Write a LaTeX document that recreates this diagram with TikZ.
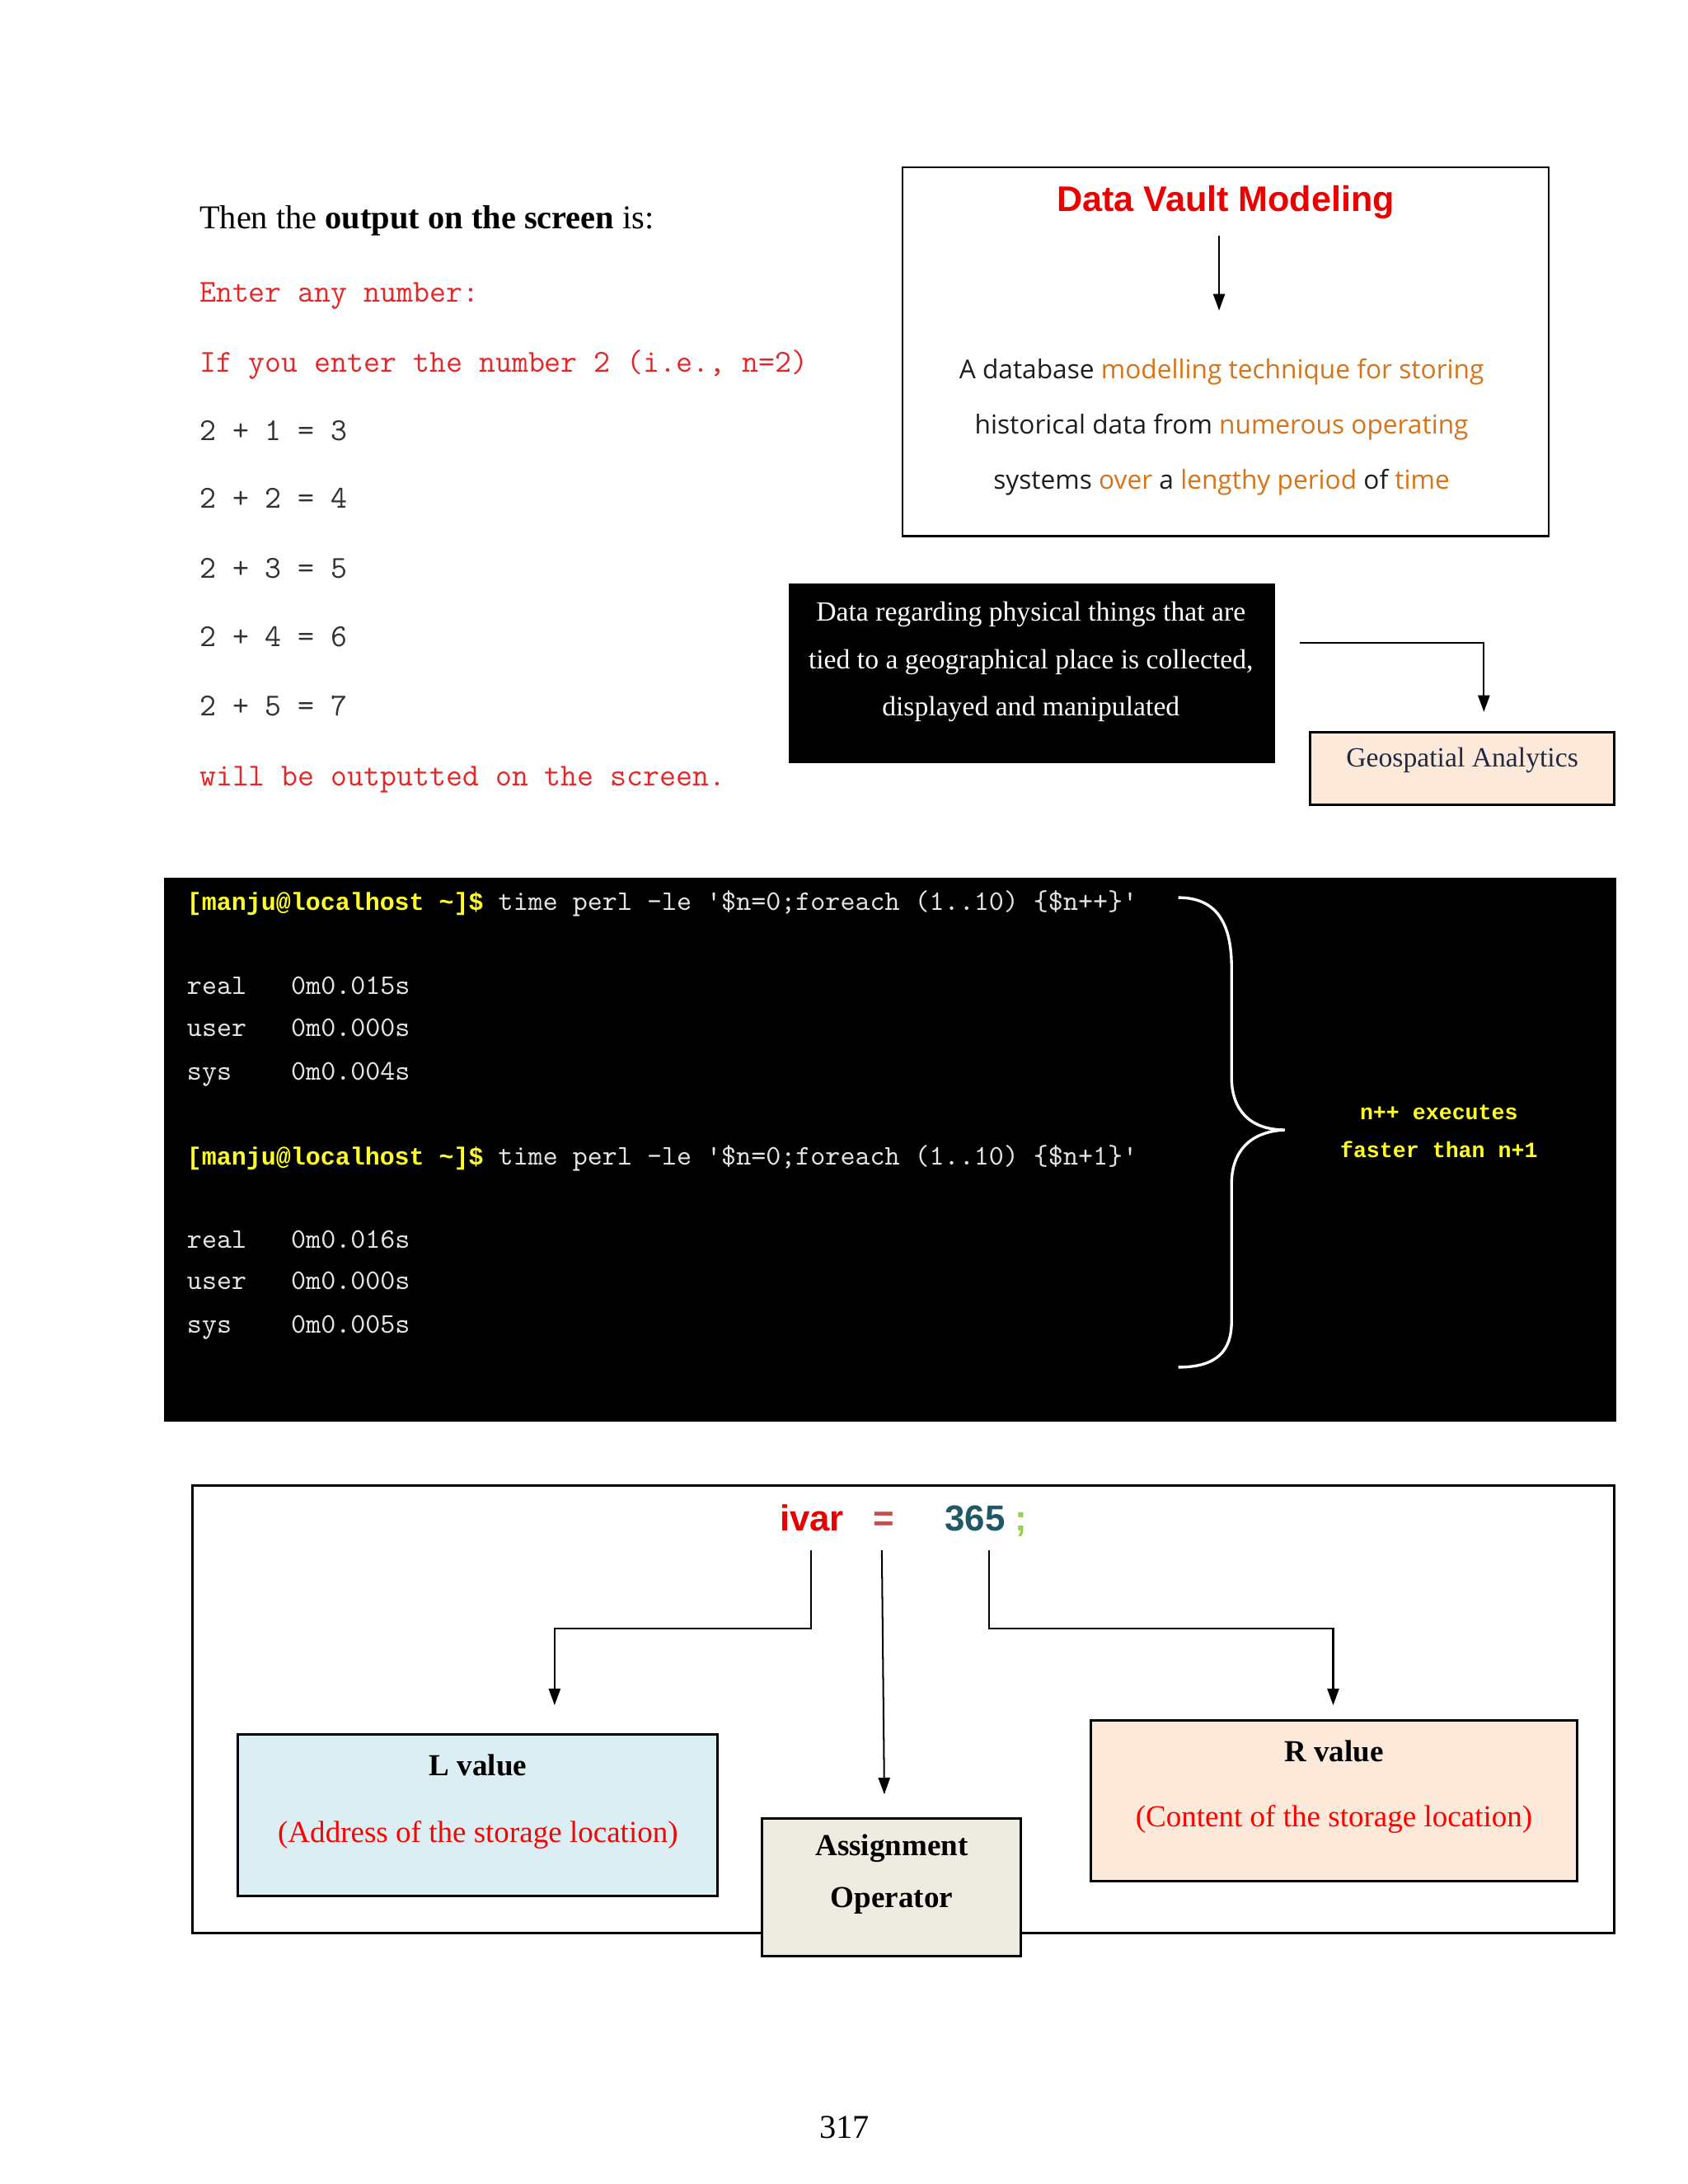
\documentclass[tikz,border=0pt]{standalone}
\usepackage{fontspec}
\setmainfont{Liberation Serif}
\setsansfont{Liberation Sans}
\newfontfamily\segoe{Open Sans}
\newfontfamily\monob{Liberation Mono}
\usetikzlibrary{arrows.meta,fit}
\definecolor{codered}{RGB}{228,38,38}
\definecolor{codegray}{RGB}{50,50,50}
\definecolor{dvred}{RGB}{235,0,0}
\definecolor{orng}{RGB}{215,115,25}
\definecolor{desc}{RGB}{30,30,30}
\definecolor{peach}{RGB}{252,233,217}
\definecolor{navy}{RGB}{31,42,68}
\definecolor{termyel}{RGB}{255,255,40}
\definecolor{termwhite}{RGB}{228,228,228}
\definecolor{ivred}{RGB}{230,0,0}
\definecolor{eqred}{RGB}{192,80,77}
\definecolor{teal}{RGB}{33,88,104}
\definecolor{semigreen}{RGB}{146,208,80}
\definecolor{lblue}{RGB}{219,238,243}
\definecolor{agray}{RGB}{238,236,225}
\newcommand\prompt{\textcolor{termyel}{\monob\bfseries\fontsize{8.9}{12}\selectfont [manju@localhost \textasciitilde]\$}}
\begin{document}
\begin{tikzpicture}[x=0.3pt,y=-0.3pt,
  arr/.style={-{Triangle[length=6pt,width=4.2pt]}, line width=0.6pt},
  codeline/.style={anchor=mid west, inner sep=0pt, font=\ttfamily\fontsize{11.5}{13}\selectfont},
  tline/.style={anchor=mid west, inner sep=0pt, text=termwhite, font=\ttfamily\fontsize{10.2}{12}\selectfont},
  frame/.style={inner sep=0pt, draw, line width=0.9pt},
  ivtext/.style={anchor=base, inner sep=0pt, font=\sffamily\bfseries\fontsize{13}{15}\selectfont}]
\useasboundingbox[fill=white] (0,-2) rectangle (2027,2621);

% left text
\node[anchor=mid west, inner sep=0pt, font=\fontsize{12}{14}\selectfont] (intro) at (239,265) {Then the \textbf{output on the screen} is:};
\node[codeline, text=codered] (l1) at (239,353) {Enter any number:};
\node[codeline, text=codered] (l2) at (239,437) {If you enter the number 2 (i.e., n=2)};
\node[codeline, text=codegray] (l3) at (239,519) {2 + 1 = 3};
\node[codeline, text=codegray] (l4) at (239,601) {2 + 2 = 4};
\node[codeline, text=codegray] (l5) at (239,685) {2 + 3 = 5};
\node[codeline, text=codegray] (l6) at (239,767) {2 + 4 = 6};
\node[codeline, text=codegray] (l7) at (239,850) {2 + 5 = 7};
\node[codeline, text=codered] (l8) at (239,934) {will be outputted on the screen.};

% data vault box
\node[fit={(1084,199) (1860,642)}, inner sep=0pt, draw, line width=0.7pt] (dv) {};
\node[font=\sffamily\bfseries\fontsize{12.8}{15}\selectfont, text=dvred] (dvt) at (1472,241) {Data Vault Modeling};
\coordinate (dva) at (1464,281);
\coordinate (dvb) at (1464,371);
\draw[arr] (dva) -- (dvb);
\node[font=\segoe\fontsize{9.4}{19.8}\selectfont, align=center, text=desc] (dvd) at (1467,511)
  {A database \textcolor{orng}{modelling technique for storing}\\
   historical data from \textcolor{orng}{numerous operating}\\
   systems \textcolor{orng}{over} a \textcolor{orng}{lengthy period} of \textcolor{orng}{time}};

% geospatial
\node[fit={(947,699) (1531,915)}, inner sep=0pt, fill=black] (geodata) {};
\node[text=white, font=\fontsize{10}{17.1}\selectfont, align=center] (geotext) at (1238,793)
  {Data regarding physical things that are\\ tied to a geographical place is collected,\\ displayed and manipulated};
\node[frame, fit={(1573,877) (1939,965)}, fill=peach] (geo) {};
\node[text=navy, font=\fontsize{10}{12}\selectfont] (geol) at (1756,911) {Geospatial Analytics};
\coordinate (ga) at (1561,770);
\coordinate (gb) at (1782,853);
\draw[arr] (ga) -| (gb);

% terminal
\node[fit={(197,1052) (1941,1705)}, inner sep=0pt, fill=black] (term) {};
\node[tline] (c1) at (224,1084) {\prompt{} time perl -le '\$n=0;foreach (1..10) \{\$n++\}'};
\node[tline] (r1) at (224,1185) {real\ \ \ 0m0.015s};
\node[tline] (u1) at (224,1235) {user\ \ \ 0m0.000s};
\node[tline] (s1) at (224,1287) {sys\ \ \ \ 0m0.004s};
\node[tline] (c2) at (224,1389) {\prompt{} time perl -le '\$n=0;foreach (1..10) \{\$n+1\}'};
\node[tline] (r2) at (224,1489) {real\ \ \ 0m0.016s};
\node[tline] (u2) at (224,1539) {user\ \ \ 0m0.000s};
\node[tline] (s2) at (224,1591) {sys\ \ \ \ 0m0.005s};
\draw[white, line width=1pt]
  (1415,1076) .. controls (1462,1076) and (1479,1108) .. (1479,1160)
  -- (1479,1292) .. controls (1479,1330) and (1500,1355) .. (1543,1355)
  .. controls (1500,1357) and (1479,1382) .. (1479,1420)
  -- (1479,1585) .. controls (1479,1620) and (1462,1640) .. (1415,1640);
\node[font=\monob\bfseries\fontsize{7.9}{13.8}\selectfont, text=termyel, align=center] (fast) at (1728,1357) {n++ executes\\ faster than n+1};

% assignment diagram
\node[frame, fit={(231,1782) (1939,2320)}] (asg) {};
\node[ivtext, text=ivred] (ivar) at (975,1837) {ivar};
\node[ivtext, text=eqred] (eq) at (1061,1837) {=};
\node[ivtext, text=teal] (val) at (1171,1837) {365};
\node[ivtext, text=semigreen] (semi) at (1226,1837) {;};

\node[frame, fit={(286,2081) (862,2275)}, fill=lblue] (lbox) {};
\node[font=\bfseries\fontsize{11}{13}\selectfont] (ltitle) at (574,2118) {L value};
\node[font=\fontsize{11}{13}\selectfont, text=red] (laddr) at (574,2202) {(Address of the storage location)};

\node[frame, fit={(1310,2064) (1894,2257)}, fill=peach] (rbox) {};
\node[font=\bfseries\fontsize{11}{13}\selectfont] (rtitle) at (1602,2101) {R value};
\node[font=\fontsize{11}{13}\selectfont, text=red] (rcont) at (1602,2183) {(Content of the storage location)};

\node[frame, fit={(915,2182) (1226,2347)}, fill=agray] (abox) {};
\node[font=\bfseries\fontsize{11}{18.6}\selectfont, align=center] (atext) at (1071,2249) {Assignment\\ Operator};

\coordinate (ls) at (974,1860);
\coordinate (le) at (666,2046);
\draw[arr] (ls) -- (974,1954) -| (le);
\coordinate (ms) at (1059,1860);
\coordinate (me) at (1062,2153);
\draw[arr] (ms) -- (me);
\coordinate (rs) at (1188,1860);
\coordinate (re) at (1601,2046);
\draw[arr] (rs) -- (1188,1954) -| (re);

\node[font=\fontsize{12}{14}\selectfont] (pg) at (1014,2553) {317};
\end{tikzpicture}
\end{document}
